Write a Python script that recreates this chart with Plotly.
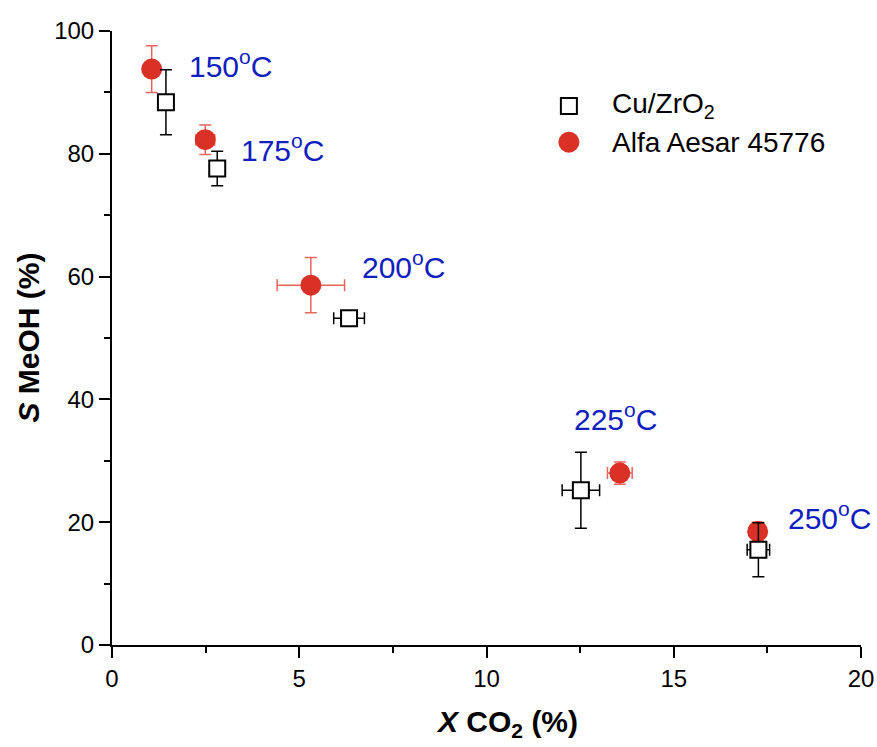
import plotly.graph_objects as go

# Cu/ZrO2 (open squares)
cu_x = [1.44, 2.81, 6.33, 12.52, 17.26]
cu_y = [88.4, 77.6, 53.2, 25.2, 15.5]
cu_xerr = [0.12, 0.1, 0.41, 0.5, 0.3]
cu_yerr = [5.3, 2.8, 1.0, 6.2, 4.4]

# Alfa Aesar 45776 (red circles)
aa_x = [1.06, 2.49, 5.31, 13.56, 17.24]
aa_y = [93.8, 82.3, 58.6, 28.0, 18.5]
aa_xerr = [0.12, 0.25, 0.9, 0.33, 0.15]
aa_yerr = [3.8, 2.4, 4.5, 1.8, 1.5]

# temperature labels
temp_labels = ["150<sup>o</sup>C", "175<sup>o</sup>C", "200<sup>o</sup>C", "225<sup>o</sup>C", "250<sup>o</sup>C"]
temp_x = [2.0, 3.39, 6.62, 12.28, 18.0]
temp_y = [94.7, 80.9, 61.9, 37.2, 21.0]

legend_names = ["Cu/ZrO<sub>2</sub>", "Alfa Aesar 45776"]

FONT = "Liberation Sans, Arial, sans-serif"
RED = "#DA3127"
RED_ERR = "#E8645E"
BLUE = "#1020C0"

fig = go.Figure()

fig.add_trace(go.Scatter(
    x=aa_x, y=aa_y, mode="markers", name=legend_names[1], showlegend=False,
    marker=dict(symbol="circle", size=21, color=RED, line=dict(width=0)),
    error_x=dict(type="data", array=aa_xerr, color=RED_ERR, thickness=1.5, width=6),
    error_y=dict(type="data", array=aa_yerr, color=RED_ERR, thickness=1.5, width=6),
))

fig.add_trace(go.Scatter(
    x=cu_x, y=cu_y, mode="markers", name=legend_names[0], showlegend=False,
    marker=dict(symbol="square", size=16, color="white", line=dict(width=2, color="black")),
    error_x=dict(type="data", array=cu_xerr, color="black", thickness=1.5, width=6),
    error_y=dict(type="data", array=cu_yerr, color="black", thickness=1.5, width=6),
))

for t, x, y in zip(temp_labels, temp_x, temp_y):
    fig.add_annotation(x=x, y=y, text=t, showarrow=False, xanchor="left", yanchor="middle",
                       font=dict(family=FONT, size=30, color=BLUE))

# manual legend (symbols sized like the reference)
LEG_X = 0.610
LEG_TX = 0.665
LEG_Y = [0.878, 0.819]
fig.add_shape(type="rect", xref="paper", yref="paper", xsizemode="pixel", ysizemode="pixel",
              xanchor=LEG_X, yanchor=LEG_Y[0], x0=-8, x1=8, y0=-8, y1=8,
              line=dict(color="black", width=2), fillcolor="white")
fig.add_shape(type="circle", xref="paper", yref="paper", xsizemode="pixel", ysizemode="pixel",
              xanchor=LEG_X, yanchor=LEG_Y[1], x0=-10.5, x1=10.5, y0=-10.5, y1=10.5,
              line=dict(width=0), fillcolor=RED)
for name, y in zip(legend_names, LEG_Y):
    fig.add_annotation(x=LEG_TX, y=y, xref="paper", yref="paper", text=name, showarrow=False,
                       xanchor="left", yanchor="middle",
                       font=dict(family=FONT, size=28, color="black"))

fig.add_annotation(x=0.527, y=-0.128, xref="paper", yref="paper", showarrow=False,
                   text="<b><i>X</i> CO<sub>2</sub> (%)</b>", xanchor="center", yanchor="middle",
                   font=dict(family=FONT, size=30, color="black"))
fig.add_annotation(x=-0.1128, y=0.5, xref="paper", yref="paper", showarrow=False, textangle=-90,
                   text="<b><i>S</i> MeOH (%)</b>", xanchor="center", yanchor="middle",
                   font=dict(family=FONT, size=30, color="black"))

fig.update_layout(
    width=877, height=747,
    margin=dict(l=112, r=16, t=31, b=102, autoexpand=False),
    paper_bgcolor="white", plot_bgcolor="white",
    font=dict(family=FONT, size=24, color="black"),
    showlegend=False,
    xaxis=dict(range=[0, 20], tickvals=[0, 5, 10, 15, 20], showgrid=False, zeroline=False,
               automargin=False,
               showline=True, linecolor="black", linewidth=2, ticks="outside", ticklen=11,
               tickwidth=2, tickcolor="black", tickfont=dict(size=24),
               minor=dict(tickvals=[2.5, 7.5, 12.5, 17.5], ticks="outside", ticklen=6,
                          tickwidth=2, tickcolor="black")),
    yaxis=dict(range=[0, 100], tickvals=[0, 20, 40, 60, 80, 100], showgrid=False, zeroline=False,
               automargin=False,
               showline=True, linecolor="black", linewidth=2, ticks="outside", ticklen=11,
               tickwidth=2, tickcolor="black", tickfont=dict(size=24),
               minor=dict(tickvals=[10, 30, 50, 70, 90], ticks="outside", ticklen=6,
                          tickwidth=2, tickcolor="black")),
)

fig.write_html("out.html")
